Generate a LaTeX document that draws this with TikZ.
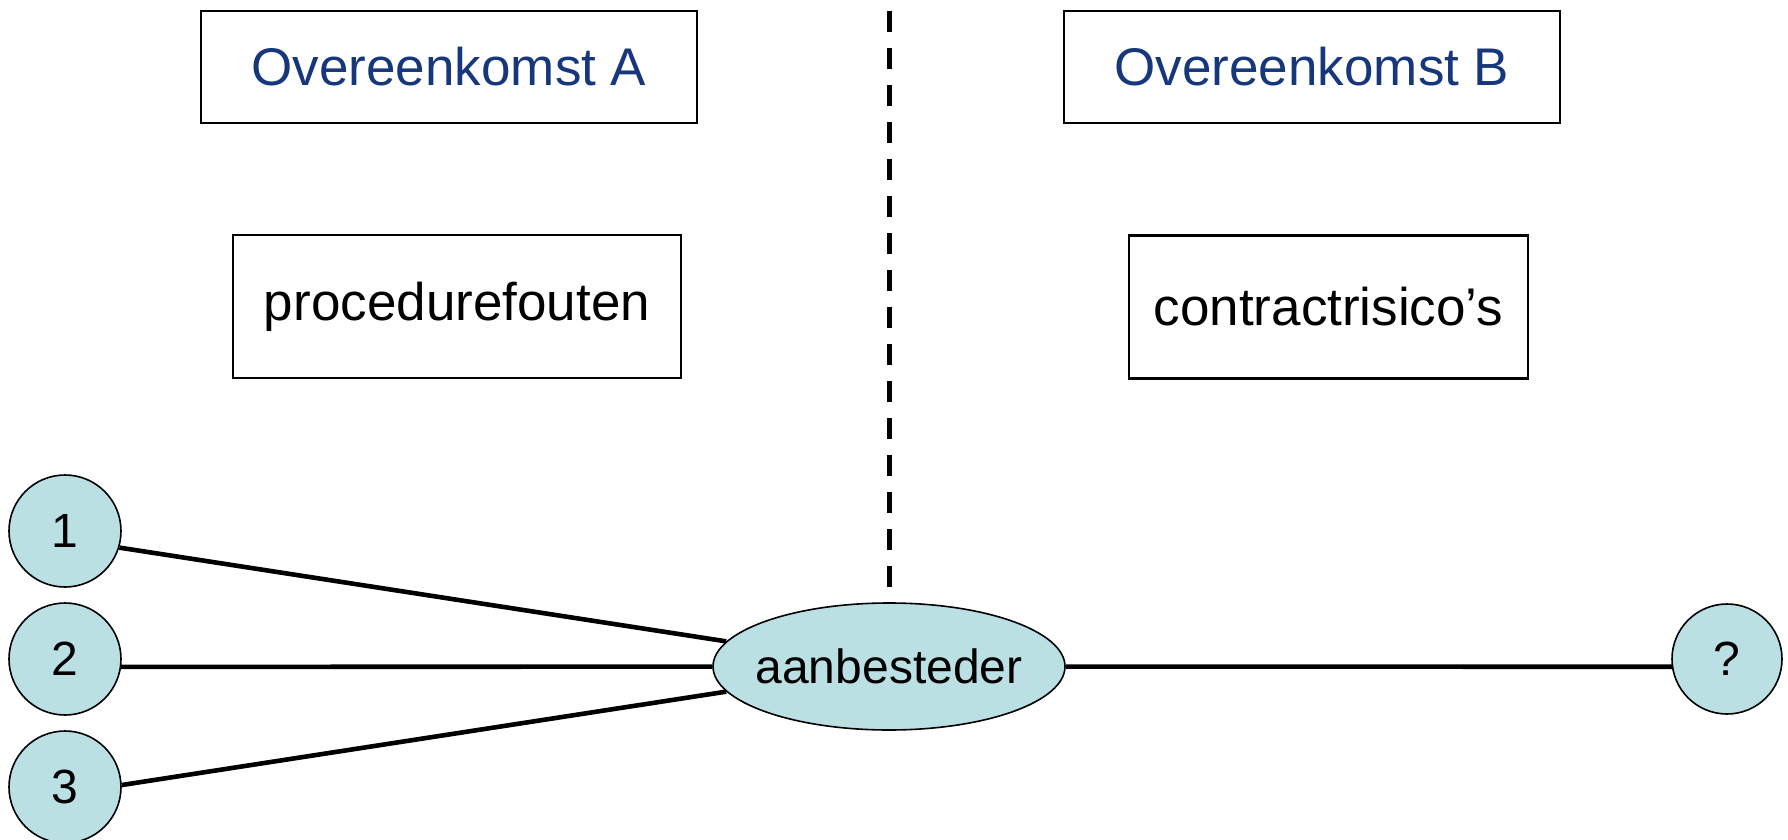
\documentclass[tikz,border=0pt]{standalone}
\usepackage{fontspec}
\setmainfont{Liberation Sans}
\usetikzlibrary{shapes.geometric}
\definecolor{navy}{RGB}{23,55,125}
\definecolor{pale}{RGB}{187,224,227}
\begin{document}
\begin{tikzpicture}[x=0.5pt,y=-0.5pt,
  label box/.style={draw, line width=1.3pt, inner sep=0pt, font=\fontsize{26.5}{30}\selectfont},
  actor/.style={circle, draw, line width=0.8pt, fill=pale, inner sep=0pt, minimum size=56pt, font=\fontsize{24}{28}\selectfont},
  link/.style={line width=2.3pt}]
\useasboundingbox (0,0) rectangle (1788,840);
\node[label box, text=navy, minimum width=248pt, minimum height=56pt] (oa) at (449,67) {Overeenkomst A};
\node[label box, text=navy, minimum width=248pt, minimum height=56pt] (ob) at (1312,67) {Overeenkomst B};
\node[label box, minimum width=224pt, minimum height=71.5pt] (pf) at (457,306.5) {procedurefouten};
\node[label box, minimum width=199.5pt, minimum height=71.5pt] (cr) at (1328.5,307) {contractrisico’s};
\node[ellipse, draw, line width=0.8pt, fill=pale, inner sep=0pt, minimum width=176pt, minimum height=63.5pt,
  label={[font=\fontsize{24}{28}\selectfont]center:aanbesteder}] (e) at (889,666.5) {};
\coordinate (dtop) at (889,11);
\draw[line width=2.5pt, dash pattern=on 10.5pt off 8pt] (dtop) -- (e.north);
\node[actor] (c1) at (65,531) {1};
\node[actor] (c2) at (65,659) {2};
\node[actor] (c3) at (65,787) {3};
\node[actor, minimum size=55pt] (q) at (1727,659) {?};
\draw[link] (c1.-17) -- (e);
\draw[link] (c2.-8) -- (e);
\draw[link] (c3.2) -- (e);
\draw[link] (e) -- (q.188);
\end{tikzpicture}
\end{document}
